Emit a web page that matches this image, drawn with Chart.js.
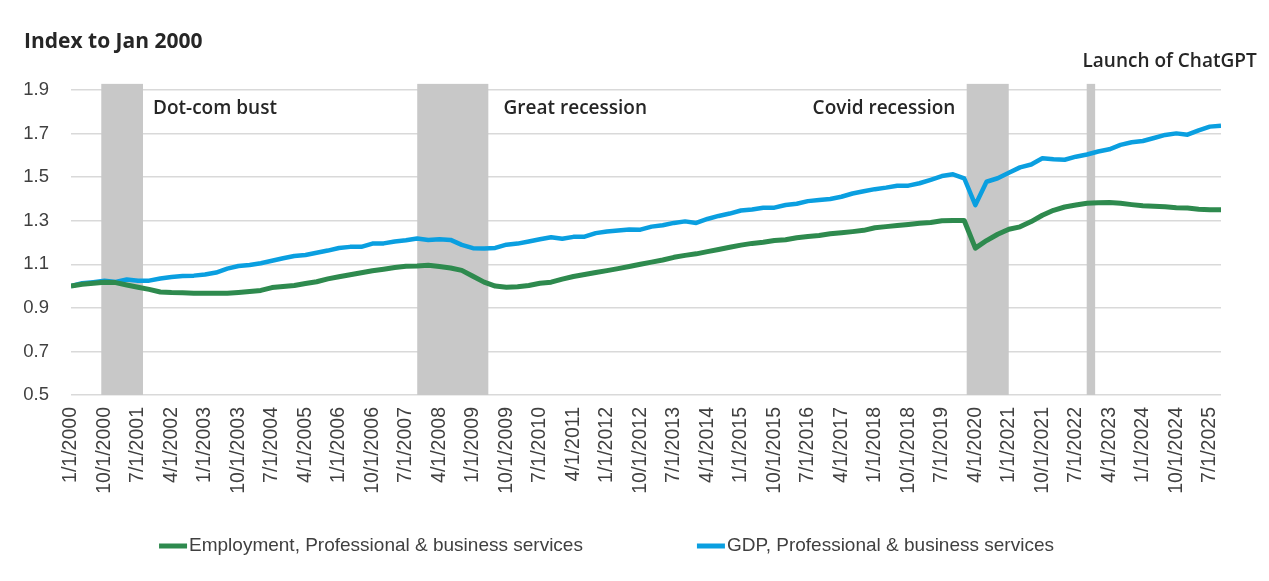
<!DOCTYPE html>
<html lang="en">

<head>
    <meta charset="UTF-8">
    <title>Professional & business services</title>
    <script src="https://cdn.jsdelivr.net/npm/chart.js"></script>
    <style>
        html, body { margin: 0; padding: 0; background: #ffffff; }
        #chart { display: block; }
    </style>
</head>

<body>
    <canvas id="chart" width="1269" height="581"></canvas>

    <script>
        // quarterly categories 1/1/2000 ... 10/1/2025
        const quarters = [];
        for (let year = 2000; year <= 2025; year++) {
            for (const month of [1, 4, 7, 10]) quarters.push(month + '/1/' + year);
        }

        const employment = [
            1.000, 1.008, 1.013, 1.018, 1.016, 1.005, 0.995, 0.985, 0.973, 0.970,
            0.969, 0.967, 0.967, 0.967, 0.967, 0.971, 0.975, 0.980, 0.993, 0.998,
            1.003, 1.012, 1.020, 1.033, 1.043, 1.052, 1.061, 1.070, 1.077, 1.085,
            1.091, 1.092, 1.096, 1.090, 1.083, 1.072, 1.045, 1.018, 1.000, 0.995,
            0.997, 1.003, 1.013, 1.018, 1.032, 1.044, 1.053, 1.062, 1.071, 1.080,
            1.090, 1.100, 1.110, 1.120, 1.132, 1.141, 1.148, 1.158, 1.168, 1.178,
            1.188, 1.196, 1.201, 1.209, 1.213, 1.222, 1.228, 1.232, 1.240, 1.245,
            1.250, 1.256, 1.268, 1.273, 1.278, 1.283, 1.288, 1.292, 1.300, 1.301,
            1.301, 1.174, 1.209, 1.238, 1.261, 1.272, 1.296, 1.325, 1.348, 1.363,
            1.372, 1.380, 1.383, 1.384, 1.380, 1.374, 1.369, 1.366, 1.364, 1.360,
            1.358, 1.353, 1.350, 1.350
        ];

        const gdp = [
            1.000, 1.013, 1.018, 1.024, 1.019, 1.030, 1.025, 1.025, 1.035, 1.042,
            1.046, 1.048, 1.053, 1.062, 1.080, 1.092, 1.097, 1.105, 1.116, 1.128,
            1.138, 1.143, 1.153, 1.163, 1.175, 1.180, 1.180, 1.195, 1.196, 1.205,
            1.210, 1.218, 1.212, 1.215, 1.212, 1.189, 1.174, 1.173, 1.175, 1.190,
            1.195, 1.205, 1.215, 1.224, 1.217, 1.226, 1.227, 1.243, 1.251, 1.255,
            1.260, 1.259, 1.273, 1.279, 1.290, 1.297, 1.290, 1.308, 1.322, 1.333,
            1.347, 1.352, 1.360, 1.360, 1.372, 1.378, 1.390, 1.395, 1.400, 1.410,
            1.425, 1.435, 1.445, 1.452, 1.461, 1.461, 1.472, 1.488, 1.505, 1.513,
            1.495, 1.372, 1.479, 1.495, 1.520, 1.545, 1.558, 1.587, 1.582, 1.580,
            1.594, 1.604, 1.618, 1.628, 1.648, 1.660, 1.666, 1.680, 1.694, 1.701,
            1.695, 1.715, 1.732, 1.736
        ];

        const yTicks = [0.5, 0.7, 0.9, 1.1, 1.3, 1.5, 1.7, 1.9];
        const xTickEvery = 3;

        // shaded periods, in quarter positions on the x axis
        const periodNames = ['Dot-com bust', 'Great recession', 'Covid recession', 'Launch of ChatGPT'];
        const periodStart = [2.7, 31.0, 80.2, 90.95];
        const periodEnd = [6.45, 37.4, 84.0, 91.75];

        const seriesNames = ['Employment, Professional & business services', 'GDP, Professional & business services'];
        const title = 'Index to Jan 2000';

        const yMin = 0.5, yTop = 1.93;
        const green = '#2e8a4e';
        const blue = '#0a9fe0';
        const shade = '#c8c8c8';

        const toPoints = arr => arr.map((v, i) => ({ x: i, y: v }));

        const datasets = [
            {
                label: seriesNames[0],
                data: toPoints(employment),
                borderColor: green,
                backgroundColor: green,
                borderWidth: 5,
                pointRadius: 0,
                tension: 0,
                borderJoinStyle: 'round',
                order: 0
            },
            {
                label: seriesNames[1],
                data: toPoints(gdp),
                borderColor: blue,
                backgroundColor: blue,
                borderWidth: 4.5,
                pointRadius: 0,
                tension: 0,
                borderJoinStyle: 'round',
                order: 1
            }
        ];

        // grey bands: flat line at the top of the scale, filled down to the axis
        periodNames.forEach((name, k) => {
            datasets.push({
                label: name,
                data: [{ x: periodStart[k], y: yTop }, { x: periodEnd[k], y: yTop }],
                borderWidth: 0,
                borderColor: 'rgba(0,0,0,0)',
                backgroundColor: shade,
                pointRadius: 0,
                fill: 'start',
                order: 10
            });
        });

        // title, band notes and the legend
        const textPlugin = {
            id: 'texts',
            afterDraw(chart) {
                const ctx = chart.ctx;
                const x = chart.scales.x;
                ctx.save();
                ctx.fillStyle = '#262626';
                ctx.textBaseline = 'middle';

                ctx.font = '700 21px "Open Sans"';
                ctx.textAlign = 'left';
                ctx.fillText(title, 24, 42);

                ctx.font = '600 19px "Open Sans"';
                // where each note sits relative to its band
                ctx.textAlign = 'left';
                ctx.fillText(periodNames[0], x.getPixelForValue(periodEnd[0]) + 10, 109);
                ctx.fillText(periodNames[1], x.getPixelForValue(periodEnd[1]) + 15, 109);
                ctx.textAlign = 'right';
                ctx.fillText(periodNames[2], x.getPixelForValue(periodStart[2]) - 11, 109);
                ctx.textAlign = 'left';
                ctx.fillText(periodNames[3], x.getPixelForValue(periodStart[3]) - 4, 62);

                // legend
                ctx.font = '19px "Liberation Sans"';
                ctx.fillStyle = '#404040';
                const colors = [green, blue];
                const lineLen = 28, gapText = 2, gapItems = 114;
                const widths = seriesNames.map(s => lineLen + gapText + ctx.measureText(s).width);
                const total = widths[0] + widths[1] + gapItems;
                let lx = chart.width / 2 - 28 - total / 2;
                const ly = 546;
                seriesNames.forEach((s, k) => {
                    ctx.strokeStyle = colors[k];
                    ctx.lineWidth = 5;
                    ctx.beginPath();
                    ctx.moveTo(lx, ly);
                    ctx.lineTo(lx + lineLen, ly);
                    ctx.stroke();
                    ctx.textAlign = 'left';
                    ctx.fillText(s, lx + lineLen + gapText, ly);
                    lx += widths[k] + gapItems;
                });
                ctx.restore();
            }
        };

        new Chart(document.getElementById('chart').getContext('2d'), {
            type: 'line',
            data: { datasets: datasets },
            options: {
                responsive: false,
                animation: false,
                layout: { padding: { left: 0, right: 48, top: 83.5, bottom: 0 } },
                plugins: {
                    legend: { display: false },
                    tooltip: { enabled: false }
                },
                scales: {
                    x: {
                        type: 'linear',
                        min: 0,
                        max: quarters.length - 1,
                        grid: { display: false, drawTicks: false },
                        border: { display: false },
                        afterBuildTicks: s => {
                            s.ticks = quarters.map((q, i) => i).filter(i => i % xTickEvery === 0).map(i => ({ value: i }));
                        },
                        afterFit: s => { s.height = 186; },
                        ticks: {
                            autoSkip: false,
                            minRotation: 90,
                            maxRotation: 90,
                            padding: 12,
                            color: '#404040',
                            font: { family: '"Liberation Sans"', size: 19.5 },
                            callback: v => quarters[v]
                        }
                    },
                    y: {
                        min: yMin,
                        max: yTop,
                        grid: { color: '#d9d9d9', lineWidth: 1.5, drawTicks: false },
                        border: { display: false },
                        afterBuildTicks: s => { s.ticks = yTicks.map(v => ({ value: v })); },
                        afterFit: s => { s.width = 71; },
                        ticks: {
                            padding: 22,
                            color: '#404040',
                            font: { family: '"Liberation Sans"', size: 18.5 },
                            callback: v => v.toFixed(1)
                        }
                    }
                }
            },
            plugins: [textPlugin]
        });
    </script>
</body>

</html>
